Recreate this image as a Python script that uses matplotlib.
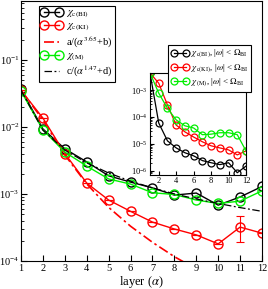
import matplotlib
matplotlib.use("Agg")
import matplotlib.pyplot as plt
import numpy as np

plt.rcParams['font.family'] = ['Liberation Serif', 'DejaVu Serif']
plt.rcParams['mathtext.fontset'] = 'stix'

layers = [1, 2, 3, 4, 5, 6, 7, 8, 9, 10, 11, 12]
chi_bi = [0.036, 0.0093, 0.0047, 0.0030, 0.00186, 0.0015, 0.00123, 0.00096, 0.00103, 0.00068, 0.00090, 0.00129]
chi_ki = [0.035, 0.0135, 0.0040, 0.00145, 0.00081, 0.00055, 0.00038, 0.00030, 0.000245, 0.00018, 0.00032, 0.00026]
chi_ki_err_lo = [0, 0, 0, 0, 0, 0, 0, 0, 0, 0, 0.00013, 0]
chi_ki_err_hi = [0, 0, 0, 0, 0, 0, 0, 0, 0, 0, 0.00015, 0]
chi_m = [0.034, 0.0090, 0.0042, 0.0026, 0.00167, 0.0014, 0.00104, 0.00098, 0.00081, 0.00072, 0.00078, 0.00111]
fit_a_x = [1, 2, 3, 4, 5, 6, 7, 8, 9]
fit_a = [0.035, 0.0127, 0.0038, 0.00141, 0.00063, 0.00033, 0.00019, 0.000116, 0.000076]
fit_c = [0.035, 0.0089, 0.0045, 0.0029, 0.00205, 0.00155, 0.00123, 0.0010, 0.00084, 0.00072, 0.000625, 0.00055]

in_bi = [4.3e-3, 6.0e-5, 1.3e-5, 7.1e-6, 4.7e-6, 3.6e-6, 2.4e-6, 2.0e-6, 1.7e-6, 2.0e-6, 8.5e-7, 1.5e-6]
in_ki = [4.3e-3, 1.8e-3, 2.8e-4, 5.0e-5, 2.8e-5, 1.8e-5, 1.2e-5, 8.5e-6, 7.1e-6, 6.0e-6, 3.9e-6, 5.5e-6]
in_m = [4.3e-3, 7.7e-4, 2.1e-4, 7.8e-5, 4.7e-5, 3.9e-5, 2.2e-5, 2.3e-5, 2.6e-5, 2.6e-5, 2.2e-5, 5.5e-6]

fig = plt.figure(figsize=(2.68, 2.89), dpi=100)
ax = fig.add_axes([0.0784, 0.0969, 0.8992, 0.8996])

ms = 6.5
mk = dict(marker='o', mfc='none', markersize=ms, markeredgewidth=1.0, lw=1.0)
h1, = ax.plot(layers, chi_bi, color='black', label=r'$\chi_{\rm c(BI)}$', **mk)
ax.errorbar(layers, chi_ki, yerr=[chi_ki_err_lo, chi_ki_err_hi], color='red', capsize=3,
            elinewidth=0.8, capthick=0.8, fmt='none')
h2, = ax.plot(layers, chi_ki, color='red', label=r'$\chi_{\rm c(KI)}$', **mk)
h3, = ax.plot(fit_a_x, fit_a, color='red', ls=(0, (6, 2, 1.5, 2)), lw=1.2, label=r'a/($\alpha^{3.65}$+b)')
h4, = ax.plot(layers, chi_m, color='#00ee00', label=r'$\chi_{\rm (M)}$', **mk)
h5, = ax.plot(layers, fit_c, color='black', ls=(0, (6, 2, 1.5, 2)), lw=0.9, label=r'c/($\alpha^{1.47}$+d)')

ax.set_yscale('log')
ax.set_xlim(1, 12)
ax.set_ylim(1e-4, 0.75)
ax.set_xticks(layers)
ax.tick_params(direction='in', which='both', labelsize=7.5, top=False, right=False, pad=2)
ax.tick_params(axis='y', pad=1.2)
ax.tick_params(which='major', length=4)
ax.tick_params(which='minor', length=2)
ax.set_xlabel(r'layer ($\alpha$)', fontsize=9, labelpad=0)
ax.xaxis.set_label_coords(0.5, -0.05)

handles = [h1, h2, h3, h4, h5]
leg = ax.legend(handles, [h.get_label() for h in handles], loc='upper left',
                bbox_to_anchor=(0.065, 0.99), fontsize=7.5, numpoints=2,
                frameon=True, fancybox=False, edgecolor='black', framealpha=1,
                handlelength=2.0, borderpad=0.25, labelspacing=0.12, handletextpad=0.4,
                borderaxespad=0.2)
leg.get_frame().set_linewidth(0.8)

# inset
ins = fig.add_axes([150 / 268, 1 - 175 / 289, 96 / 268, 102 / 289])
mk2 = dict(marker='o', mfc='none', markersize=5, markeredgewidth=0.9, lw=0.9)
ins.plot(layers, in_bi, color='black', label=r'$\chi_{\rm c(BI)}$, |$\omega$| < $\Omega_{\rm BI}$', **mk2)
ins.plot(layers, in_ki, color='red', label=r'$\chi_{\rm c(KI)}$, |$\omega$| < $\Omega_{\rm BI}$', **mk2)
ins.plot(layers, in_m, color='#00ee00', label=r'$\chi_{\rm (M)}$, |$\omega$| < $\Omega_{\rm BI}$', **mk2)
ins.set_yscale('log')
ins.set_xlim(1, 12)
ins.set_ylim(7e-7, 4.3e-3)
ins.set_xticks([2, 4, 6, 8, 10, 12])
ins.tick_params(direction='in', which='both', labelsize=6, pad=1.5, top=False, right=False)
ins.tick_params(which='major', length=3)
ins.tick_params(which='minor', length=1.5)
l2 = ins.legend(loc='upper right', bbox_to_anchor=(1.055, 1.27), fontsize=6.4, numpoints=2,
                frameon=True, fancybox=False, edgecolor='black', framealpha=1,
                handlelength=2.0, borderpad=0.3, labelspacing=0.25, handletextpad=0.3,
                borderaxespad=0.0, markerscale=1.0)
l2.get_frame().set_linewidth(0.8)

fig.savefig('out.png', dpi=100)
